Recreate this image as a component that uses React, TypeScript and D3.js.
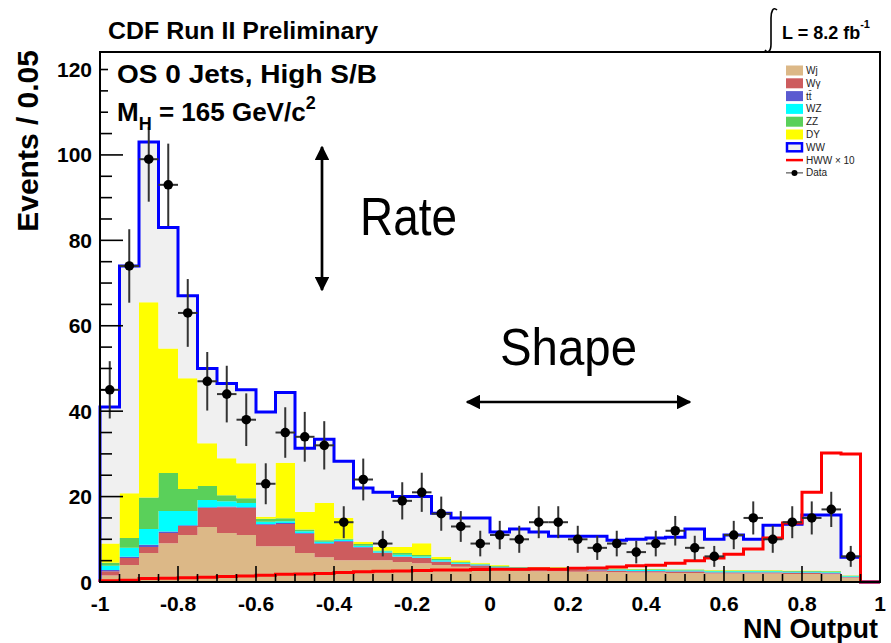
import { useEffect, useRef } from 'react'
import * as d3 from 'd3'

// NN output histogram, 40 bins of 0.05 from -1 to 1 (events per bin)
const wj = [1.5, 4.0, 6.8, 9.1, 11.0, 12.9, 11.5, 11.0, 8.4, 8.4, 6.8, 5.8, 5.1, 5.1, 5.1, 4.7, 4.4, 4.0, 3.6, 3.3, 2.8, 2.6, 2.5, 2.5, 2.4, 2.4, 2.3, 2.2, 2.2, 2.1, 2.1, 2.0, 2.0, 2.0, 2.0, 1.9, 1.9, 1.8, 1.0, 0]
const wgamma = [1.0, 1.6, 1.4, 2.4, 2.1, 4.4, 6.0, 6.3, 5.0, 5.2, 4.5, 3.1, 4.3, 3.0, 1.7, 1.2, 1.2, 0.7, 0.6, 0.5, 0.5, 0.5, 0.4, 0.4, 0.4, 0.3, 0.3, 0.3, 0.3, 0.3, 0.3, 0.2, 0.2, 0.2, 0.2, 0.2, 0.2, 0.2, 0.1, 0]
const ttbar = [0.3, 0.3, 0.5, 0.3, 0.2, 0.2, 0.2, 0.2, 0.2, 0.2, 0.2, 0.2, 0.2, 0.1, 0.1, 0.1, 0.1, 0.1, 0.1, 0.1, 0.1, 0.1, 0.1, 0.1, 0.1, 0.1, 0.1, 0.1, 0.1, 0.1, 0.1, 0.1, 0.1, 0.1, 0.1, 0.1, 0.1, 0.1, 0.05, 0]
const wz = [1.0, 2.1, 3.7, 4.8, 3.3, 1.7, 1.2, 1.0, 0.5, 0.4, 0.4, 0.3, 0.3, 0.3, 0.3, 0.4, 0.3, 0.3, 0.2, 0.2, 0.2, 0.2, 0.2, 0.2, 0.2, 0.2, 0.2, 0.2, 0.2, 0.2, 0.2, 0.2, 0.2, 0.2, 0.2, 0.2, 0.2, 0.2, 0.2, 0]
const zz = [0.7, 2.3, 7.4, 8.9, 5.2, 3.3, 1.4, 1.1, 0.7, 0.7, 0.4, 0.4, 0.2, 0.4, 0.2, 0.4, 0.3, 0.3, 0.2, 0.2, 0.2, 0.1, 0.2, 0.2, 0.2, 0.2, 0.2, 0.2, 0.2, 0.2, 0.2, 0.2, 0.2, 0.2, 0.2, 0.2, 0.2, 0.2, 0.2, 0]
const dy = [4.5, 10.5, 45.7, 29.2, 25.9, 10.0, 8.7, 8.2, 0.5, 13.0, 4.1, 8.7, 4.9, 0.5, 0.8, 1.4, 2.8, 0.5, 0.4, 0.2, 0.2, 0.1, 0.1, 0.1, 0.1, 0.1, 0.1, 0.1, 0.1, 0.1, 0.1, 0.1, 0.1, 0.1, 0.1, 0.1, 0.1, 0.1, 0.05, 0]
const ww = [32, 53.2, 37.5, 28.3, 19.3, 17.5, 17.5, 17.2, 24.5, 16.5, 14.9, 14.9, 13.3, 12.6, 12.8, 11.8, 10.9, 10.2, 9.9, 10.5, 7.7, 8.8, 8.2, 7.2, 7.3, 7.4, 6.6, 6.9, 7.2, 7.5, 9.4, 7.2, 8.2, 7.2, 10.5, 10.8, 13.0, 13.1, 4.2, 0]
const hwwX10 = [0.3, 0.4, 0.8, 0.9, 1.0, 1.1, 1.3, 1.4, 1.6, 1.8, 1.9, 2.0, 2.2, 2.4, 2.5, 2.6, 2.7, 2.8, 2.8, 2.9, 3.0, 3.0, 3.1, 3.0, 3.2, 3.3, 3.5, 3.8, 3.9, 4.4, 5.0, 5.6, 6.5, 7.7, 10.3, 13.8, 21, 30.2, 30, 0]
const dataCounts = [45, 74, 99, 93, 63, 47, 44, 38, 23, 35, 34, 32, 14, 24, 9, 19, 21, 16, 13, 9, 11, 10, 14, 14, 10, 8, 9, 7, 9, 12, 8, 6, 11, 15, 10, 14, 15, 17, 6]

const layerKeys = ['wj', 'wgamma', 'ttbar', 'wz', 'zz', 'dy', 'ww']
const layerColors = ['#dcb887', '#cd5c5e', '#5a5ad0', '#00ffff', '#5ad05a', '#ffff00', '#f0f0f0']
const legendLabels = ['Wj', 'Wγ', 'tt̄', 'WZ', 'ZZ', 'DY', 'WW', 'HWW × 10', 'Data']

const xTicks = [-1, -0.8, -0.6, -0.4, -0.2, 0, 0.2, 0.4, 0.6, 0.8, 1]
const yTicks = [0, 20, 40, 60, 80, 100, 120]

const FONT = '"Liberation Sans", Arial, Helvetica, sans-serif'

export default function App() {
  const svgRef = useRef(null)

  useEffect(() => {
    document.body.style.margin = '0'
    const width = 891
    const height = 643
    const left = 100, right = 880, top = 52, bottom = 582
    const binW = 0.05

    const x = d3.scaleLinear().domain([-1, 1]).range([left, right])
    const y = d3.scaleLinear().domain([0, 124.1]).range([bottom, top])

    const rows = wj.map((_, i) => ({
      lo: -1 + i * binW, hi: -1 + (i + 1) * binW,
      wj: wj[i], wgamma: wgamma[i], ttbar: ttbar[i], wz: wz[i], zz: zz[i], dy: dy[i], ww: ww[i],
    }))
    const stacked = d3.stack().keys(layerKeys)(rows)

    const svg = d3.select(svgRef.current)
    svg.selectAll('*').remove()
    svg.attr('width', width).attr('height', height)
    svg.append('rect').attr('width', width).attr('height', height).attr('fill', 'white')

    const plot = svg.append('g')

    // stacked backgrounds
    const area = d3.area()
      .x((d) => x(d[0]))
      .y0((d) => y(d[1]))
      .y1((d) => y(d[2]))
    stacked.forEach((layer, li) => {
      const pts = []
      layer.forEach((s, i) => {
        pts.push([rows[i].lo, s[0], s[1]])
        pts.push([rows[i].hi, s[0], s[1]])
      })
      plot.append('path').attr('d', area(pts)).attr('fill', layerColors[li])
    })

    // step outlines
    const line = d3.line().x((d) => x(d[0])).y((d) => y(d[1]))
    const stepPts = (vals) => {
      const pts = [[-1, 0]]
      vals.forEach((v, i) => {
        pts.push([rows[i].lo, v])
        pts.push([rows[i].hi, v])
      })
      pts.push([1, 0])
      return pts
    }
    const totals = stacked[stacked.length - 1].map((s) => s[1])
    plot.append('path').attr('d', line(stepPts(totals)))
      .attr('fill', 'none').attr('stroke', '#0000ff').attr('stroke-width', 3)
    plot.append('path').attr('d', line(stepPts(hwwX10)))
      .attr('fill', 'none').attr('stroke', '#ff0000').attr('stroke-width', 3)

    // data with poisson errors
    const pts = plot.append('g')
    dataCounts.forEach((n, i) => {
      const cx = x(rows[i].lo + binW / 2)
      const err = Math.sqrt(n)
      pts.append('line').attr('x1', cx).attr('x2', cx).attr('y1', y(n - err)).attr('y2', y(n + err))
        .attr('stroke', '#333').attr('stroke-width', 2)
      pts.append('line').attr('x1', x(rows[i].lo)).attr('x2', x(rows[i].hi)).attr('y1', y(n)).attr('y2', y(n))
        .attr('stroke', '#333').attr('stroke-width', 2)
      pts.append('circle').attr('cx', cx).attr('cy', y(n)).attr('r', 4.8).attr('fill', 'black')
    })

    // ticks (inside the frame)
    const ax = svg.append('g').attr('stroke', 'black').attr('stroke-width', 1.6)
    d3.range(0, 41).forEach((k) => {
      const v = -1 + k * 0.05
      const major = k % 4 === 0
      ax.append('line').attr('x1', x(v)).attr('x2', x(v)).attr('y1', bottom).attr('y2', bottom - (major ? 16 : 8))
    })
    d3.range(0, 25).forEach((k) => {
      const v = k * 5
      const major = k % 4 === 0
      ax.append('line').attr('x1', left).attr('x2', left + (major ? 23 : 12)).attr('y1', y(v)).attr('y2', y(v))
    })

    // white pave behind the top-left caption
    svg.append('rect').attr('x', 108).attr('y', 53).attr('width', 280).attr('height', 74).attr('fill', 'white')

    // frame
    svg.append('rect').attr('x', left).attr('y', top).attr('width', right - left).attr('height', bottom - top)
      .attr('fill', 'none').attr('stroke', 'black').attr('stroke-width', 2)

    const txt = (g, xx, yy, s, size, opts = {}) =>
      g.append('text').attr('x', xx).attr('y', yy).text(s)
        .style('font-family', FONT).style('font-size', size + 'px')
        .style('font-weight', opts.weight || 'bold')
        .attr('text-anchor', opts.anchor || 'start')

    const labels = svg.append('g').attr('fill', 'black')
    xTicks.forEach((v) => txt(labels, x(v), 611, String(v), 21, { anchor: 'middle' }))
    yTicks.forEach((v) => txt(labels, 92, y(v) + 7.5, String(v), 21, { anchor: 'end' }))

    txt(labels, 878, 638, 'NN Output', 27, { anchor: 'end' })
    txt(labels, 0, 0, 'Events / 0.05', 30, { anchor: 'end' })
      .attr('transform', 'translate(38,50) rotate(-90)')

    // titles
    txt(labels, 108, 39, 'CDF Run II Preliminary', 24).attr('textLength', 270).attr('lengthAdjust', 'spacingAndGlyphs')
    txt(labels, 117, 83, 'OS 0 Jets, High S/B', 26).attr('textLength', 260).attr('lengthAdjust', 'spacingAndGlyphs')
    const mh = txt(labels, 117, 121, '', 26)
    mh.append('tspan').text('M')
    mh.append('tspan').attr('dy', 9).style('font-size', '18px').text('H')
    mh.append('tspan').attr('dy', -9).text(' = 165 GeV/c')
    mh.append('tspan').attr('dy', -12).style('font-size', '18px').text('2')

    svg.append('path').attr('d', 'M777,10 C773,6 771,12 771,18 L771,44 C771,51 768,54 765,50')
      .attr('fill', 'none').attr('stroke', 'black').attr('stroke-width', 1.6)
    const lum = txt(labels, 782, 39, 'L = 8.2 fb', 18)
    lum.append('tspan').attr('dy', -11).style('font-size', '11px').text('-1')

    // legend
    const leg = svg.append('g')
    legendLabels.forEach((lab, i) => {
      const cy = 70.5 + i * 12.8
      if (i < 6) {
        leg.append('rect').attr('x', 786).attr('y', cy - 5).attr('width', 17).attr('height', 10).attr('fill', layerColors[i])
      } else if (i === 6) {
        leg.append('rect').attr('x', 787).attr('y', cy - 4).attr('width', 15).attr('height', 8)
          .attr('fill', '#f0f0f0').attr('stroke', '#0000ff').attr('stroke-width', 2.5)
      } else if (i === 7) {
        leg.append('line').attr('x1', 786).attr('x2', 803).attr('y1', cy).attr('y2', cy).attr('stroke', '#ff0000').attr('stroke-width', 2.5)
      } else {
        leg.append('line').attr('x1', 786).attr('x2', 803).attr('y1', cy).attr('y2', cy).attr('stroke', '#333').attr('stroke-width', 1)
        leg.append('circle').attr('cx', 794.5).attr('cy', cy).attr('r', 3).attr('fill', 'black')
      }
      txt(leg, 806, cy + 3.5, lab, 10, { weight: 'normal' }).attr('fill', '#222')
    })

    // annotations: rate / shape arrows
    const ann = svg.append('g')
    const defs = svg.append('defs')
    defs.append('marker').attr('id', 'ah').attr('viewBox', '0 0 10 10').attr('refX', 9).attr('refY', 5)
      .attr('markerWidth', 5.5).attr('markerHeight', 5.5).attr('markerUnits', 'strokeWidth').attr('orient', 'auto-start-reverse')
      .append('path').attr('d', 'M0,0 L10,5 L0,10 z').attr('fill', 'black')
    ann.append('line').attr('x1', 322).attr('x2', 322).attr('y1', 147).attr('y2', 290)
      .attr('stroke', 'black').attr('stroke-width', 2.7)
      .attr('marker-start', 'url(#ah)').attr('marker-end', 'url(#ah)')
    ann.append('line').attr('x1', 467).attr('x2', 690).attr('y1', 402).attr('y2', 402)
      .attr('stroke', 'black').attr('stroke-width', 2.7)
      .attr('marker-start', 'url(#ah)').attr('marker-end', 'url(#ah)')
    txt(ann, 360, 235, 'Rate', 53, { weight: 'normal' }).attr('textLength', 97).attr('lengthAdjust', 'spacingAndGlyphs')
    txt(ann, 500, 365, 'Shape', 52, { weight: 'normal' }).attr('textLength', 137).attr('lengthAdjust', 'spacingAndGlyphs')
  }, [])

  return (
    <div>
      <svg ref={svgRef} style={{ display: 'block' }}></svg>
    </div>
  )
}
